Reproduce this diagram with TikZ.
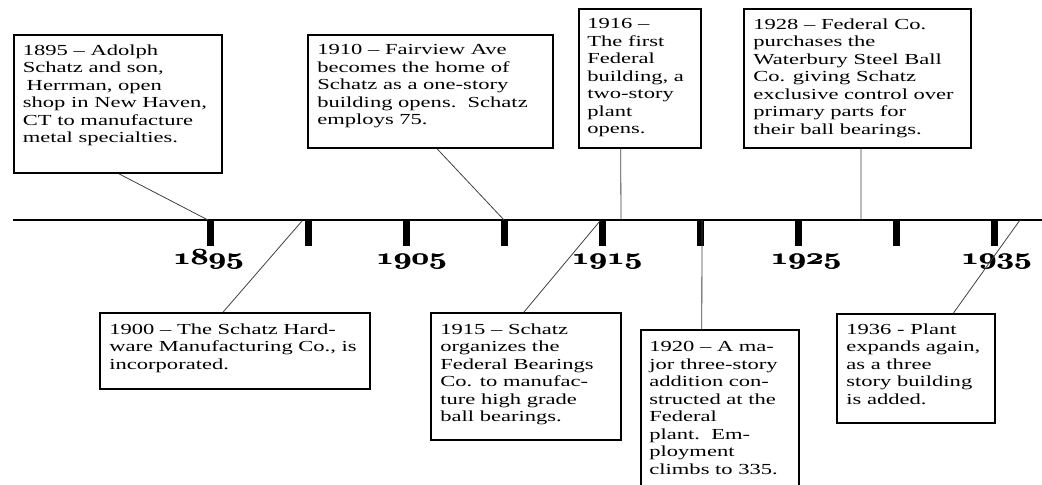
\documentclass[tikz,border=0pt]{standalone}
\usepackage{fontspec}
\usepackage{graphicx}
\setmainfont{Liberation Serif}
\newfontfamily\boxfont[FakeStretch=1.47]{Liberation Serif}
\newcommand\myyearfont{\fontencoding{OML}\fontfamily{cmm}\fontseries{b}\fontshape{it}\fontsize{16pt}{18pt}\selectfont}
\newcommand\myyear[1]{\scalebox{1.33}[1]{\myyearfont\rlap{#1}\hspace{0.45pt}#1}}
\usetikzlibrary{calc,fit}
\begin{document}
\begin{tikzpicture}[x=0.75pt,y=-0.75pt,
  evbox/.style={draw=black, line width=1.3pt, rectangle, inner sep=0pt},
  evtext/.style={font=\boxfont\fontsize{11.5pt}{13.125pt}\selectfont, align=left, inner sep=0pt, anchor=north west},
  conn/.style={draw=black!75, line width=0.6pt},
  axisline/.style={line width=1.9pt},
  tickmark/.style={line width=5.25pt},
  yr/.style={anchor=base, inner sep=0pt}
]
\useasboundingbox (0,0) rectangle (1042,485);
\clip (0,0) rectangle (1042,485);

% axis
\coordinate (axL) at (13,220);
\coordinate (axR) at (1042,220);
\draw[axisline] (axL) -- (axR);
\foreach \i in {0,...,8}{
  \draw[tickmark] ({210.5+98.05*\i},220) -- ({210.5+98.05*\i},246);
}

% year labels
\node[yr] (y1895) at (208.5,264) {\myyear{1895}};
\node[yr] (y1905) at (411.5,264) {\myyear{1905}};
\node[yr] (y1915) at (607,264) {\myyear{1915}};
\node[yr] (y1925) at (806,264) {\myyear{1925}};
\node[yr] (y1935) at (996.5,264) {\myyear{1935}};

% axis attachment points
\coordinate (pA) at (208,220);
\coordinate (pB) at (504,220);
\coordinate (pC) at (621,220);
\coordinate (pD) at (861,220);
\coordinate (pE) at (302,221);
\coordinate (pF) at (600,221);
\coordinate (pG) at (702,220);
\coordinate (pH) at (1020,220);

% boxes
\node[evbox, fit={(14,35) (222,173)}] (A) {};
\node[evbox, fit={(308,35) (553,148)}] (B) {};
\node[evbox, fit={(579,9) (701,148)}] (C) {};
\node[evbox, fit={(744,9) (971,148)}] (D) {};
\node[evbox, fit={(100,313) (370,389)}] (E) {};
\node[evbox, fit={(431,313) (621,440)}] (F) {};
\node[evbox, fit={(641,330) (799,495)}] (G) {};
\node[evbox, fit={(837,314) (995,423)}] (H) {};

% texts
\node[evtext] (At) at ($(A.north west)+(9.5,10)$) {1895 – Adolph\\Schatz and son,\\\hspace*{0.25em}Herrman, open\\shop in New Haven,\\CT to manufacture\\metal specialties.};
\node[evtext] (Bt) at ($(B.north west)+(10,10)$) {1910 – Fairview Ave\\becomes the home of\\Schatz as a one-story\\building opens.\ \ Schatz\\employs 75.};
\node[evtext] (Ct) at ($(C.north west)+(9,10)$) {1916 –\\The first\\Federal\\building, a\\two-story\\plant\\opens.};
\node[evtext] (Dt) at ($(D.north west)+(10,10)$) {1928 – Federal Co.\\purchases the\\Waterbury Steel Ball\\Co. giving Schatz\\exclusive control over\\primary parts for\\their ball bearings.};
\node[evtext] (Et) at ($(E.north west)+(10,11)$) {1900 – The Schatz Hard-\\ware Manufacturing Co., is\\incorporated.};
\node[evtext] (Ft) at ($(F.north west)+(10,11)$) {1915 – Schatz\\organizes the\\Federal Bearings\\Co. to manufac-\\ture high grade\\ball bearings.};
\node[evtext] (Gt) at ($(G.north west)+(9,12)$) {1920 – A ma-\\jor three-story\\addition con-\\structed at the\\Federal\\plant.\ \ Em-\\ployment\\climbs to 335.};
\node[evtext] (Ht) at ($(H.north west)+(10,10)$) {1936 - Plant\\expands again,\\as a three\\story building\\is added.};

% connectors
\draw[conn] ($(A.south west)!0.505!(A.south east)$) -- (pA);
\draw[conn] ($(B.south west)!0.527!(B.south east)$) -- (pB);
\draw[conn] ($(C.south west)!0.344!(C.south east)$) -- (pC);
\draw[conn] ($(D.south west)!0.515!(D.south east)$) -- (pD);
\draw[conn] ($(E.north west)!0.456!(E.north east)$) -- (pE);
\draw[conn] ($(F.north west)!0.489!(F.north east)$) -- (pF);
\draw[conn] ($(G.north west)!0.386!(G.north east)$) -- (pG);
\draw[conn] ($(H.north west)!0.734!(H.north east)$) -- (pH);
\end{tikzpicture}
\end{document}
